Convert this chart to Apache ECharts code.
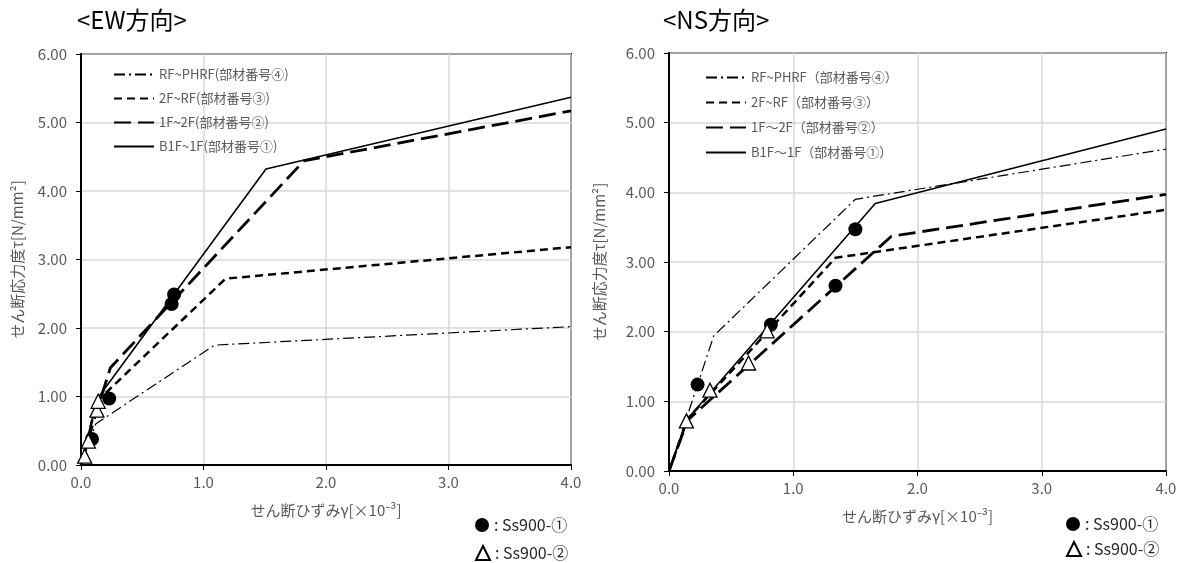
<!DOCTYPE html>
<html>
<head>
<meta charset="utf-8">
<script src="https://cdn.jsdelivr.net/npm/echarts@6/dist/echarts.min.js"></script>
<style>
  html, body { margin: 0; padding: 0; background: #fff; }
  #main { width: 1183px; height: 563px; }
</style>
</head>
<body>
<div id="main"></div>
<script>
// EW方向 skeleton curves (γ [×10^-3], τ [N/mm2])
var ewRfX = [0, 0.12, 1.09, 4.0];
var ewRfY = [0, 0.60, 1.75, 2.02];
var ew2fX = [0, 0.13, 1.18, 4.0];
var ew2fY = [0, 0.93, 2.72, 3.18];
var ew1fX = [0, 0.10, 0.24, 1.82, 4.0];
var ew1fY = [0, 0.62, 1.42, 4.44, 5.17];
var ewB1X = [0, 0.13, 1.51, 4.0];
var ewB1Y = [0, 0.96, 4.32, 5.37];
var ewSs1X = [0.09, 0.23, 0.74, 0.76];
var ewSs1Y = [0.38, 0.97, 2.35, 2.49];
var ewSs2X = [0.03, 0.06, 0.13, 0.14];
var ewSs2Y = [0.13, 0.35, 0.80, 0.93];

// NS方向
var nsRfX = [0, 0.36, 1.50, 4.0];
var nsRfY = [0, 1.94, 3.90, 4.62];
var ns2fX = [0, 0.15, 1.34, 4.0];
var ns2fY = [0, 0.75, 3.06, 3.75];
var ns1fX = [0, 0.15, 1.79, 4.0];
var ns1fY = [0, 0.73, 3.37, 3.97];
var nsB1X = [0, 0.15, 1.66, 4.0];
var nsB1Y = [0, 0.75, 3.84, 4.91];
var nsSs1X = [0.23, 0.82, 1.34, 1.50];
var nsSs1Y = [1.24, 2.10, 2.66, 3.47];
var nsSs2X = [0.14, 0.33, 0.64, 0.79];
var nsSs2Y = [0.72, 1.16, 1.55, 2.01];

var ewNames = ['RF~PHRF(部材番号④)', '2F~RF(部材番号③)', '1F~2F(部材番号②)', 'B1F~1F(部材番号①)'];
var nsNames = ['RF~PHRF（部材番号④）', '2F~RF（部材番号③）', '1F～2F（部材番号②）', 'B1F～1F（部材番号①）'];
var ssNames = [': Ss900-①', ': Ss900-②'];

var FONT = '"Noto Sans CJK JP", "Noto Sans", sans-serif';
var GREY = '#595959';

function pairs(xs, ys) {
  return xs.map(function (x, i) { return [x, ys[i]]; });
}

function xAxisOf(gi) {
  return {
    gridIndex: gi, type: 'value', min: 0, max: 4, interval: 1,
    name: 'せん断ひずみγ[×10⁻³]', nameLocation: 'middle', nameGap: 38,
    nameTextStyle: { color: GREY, fontSize: 15, fontFamily: FONT },
    axisLine: { lineStyle: { color: '#000', width: 2 } },
    axisTick: { show: true, length: 5, lineStyle: { color: '#000' } },
    axisLabel: { color: GREY, fontSize: 15, fontFamily: FONT, margin: 10,
      formatter: function (v) { return v.toFixed(1); } },
    splitLine: { lineStyle: { color: '#d9d9d9', width: 1.5 } }
  };
}

function yAxisOf(gi, gap) {
  return {
    gridIndex: gi, type: 'value', min: 0, max: 6, interval: 1,
    name: 'せん断応力度τ[N/mm²]', nameLocation: 'middle', nameGap: gap,
    nameTextStyle: { color: GREY, fontSize: 15, fontFamily: FONT },
    axisLine: { show: true, lineStyle: { color: '#000', width: 2 } },
    axisTick: { show: true, length: 5, lineStyle: { color: '#000' } },
    axisLabel: { color: GREY, fontSize: 15, fontFamily: FONT, margin: 14,
      formatter: function (v) { return v.toFixed(2); } },
    splitLine: { lineStyle: { color: '#d9d9d9', width: 1.5 } }
  };
}

// 4 line styles: dash-dot, short dash, long dash, solid
var styles = [
  { width: 1.2, type: [11, 4, 2, 4] },
  { width: 2.5, type: [8, 5] },
  { width: 2.8, type: [17, 7] },
  { width: 1.6, type: 'solid' }
];

function lineSeries(name, gi, xs, ys, st) {
  return {
    name: name, type: 'line', xAxisIndex: gi, yAxisIndex: gi,
    data: pairs(xs, ys), symbol: 'none', silent: true, z: 2,
    itemStyle: { color: '#000' },
    lineStyle: { color: '#000', width: st.width, type: st.type }
  };
}

function dotSeries(gi, xs, ys) {
  return {
    name: ssNames[0], type: 'scatter', xAxisIndex: gi, yAxisIndex: gi,
    data: pairs(xs, ys), symbol: 'circle', symbolSize: 14, z: 5,
    itemStyle: { color: '#000', opacity: 1 }
  };
}

function triSeries(gi, xs, ys) {
  return {
    name: ssNames[1], type: 'scatter', xAxisIndex: gi, yAxisIndex: gi,
    data: pairs(xs, ys), symbol: 'triangle', symbolSize: 14, z: 6,
    itemStyle: { color: '#fff', borderColor: '#000', borderWidth: 1.3, opacity: 1 }
  };
}

function lineLegend(names, left, top, gap) {
  return {
    data: names, orient: 'vertical', left: left, top: top,
    itemWidth: 40, itemHeight: 10, itemGap: gap, selectedMode: false,
    itemStyle: { opacity: 0 },
    textStyle: { color: GREY, fontSize: 13, fontFamily: FONT }
  };
}

function markLegend(name, left, top) {
  return {
    data: [name], orient: 'horizontal', left: left, top: top,
    itemWidth: 14, itemHeight: 14, selectedMode: false,
    textStyle: { color: '#262626', fontSize: 16, fontFamily: FONT }
  };
}

var option = {
  animation: false,
  backgroundColor: '#fff',
  title: [
    { text: '<EW方向>', left: 72, top: 3, textStyle: { fontSize: 24, fontWeight: 'normal', color: '#000', fontFamily: FONT } },
    { text: '<NS方向>', left: 658, top: 3, textStyle: { fontSize: 24, fontWeight: 'normal', color: '#000', fontFamily: FONT } }
  ],
  grid: [
    { left: 81, top: 54, width: 490, height: 411, show: true, borderColor: '#000', borderWidth: 2 },
    { left: 669, top: 53, width: 497, height: 418, show: true, borderColor: '#000', borderWidth: 2 }
  ],
  xAxis: [xAxisOf(0), xAxisOf(1)],
  yAxis: [yAxisOf(0, 56), yAxisOf(1, 62)],
  legend: [
    lineLegend(ewNames, 108, 63, 11),
    lineLegend(nsNames, 700, 66, 12),
    markLegend(ssNames[0], 470, 512),
    markLegend(ssNames[1], 470, 540),
    markLegend(ssNames[0], 1061, 511),
    markLegend(ssNames[1], 1061, 536)
  ],
  series: [
    lineSeries(ewNames[0], 0, ewRfX, ewRfY, styles[0]),
    lineSeries(ewNames[1], 0, ew2fX, ew2fY, styles[1]),
    lineSeries(ewNames[2], 0, ew1fX, ew1fY, styles[2]),
    lineSeries(ewNames[3], 0, ewB1X, ewB1Y, styles[3]),
    dotSeries(0, ewSs1X, ewSs1Y),
    triSeries(0, ewSs2X, ewSs2Y),
    lineSeries(nsNames[0], 1, nsRfX, nsRfY, styles[0]),
    lineSeries(nsNames[1], 1, ns2fX, ns2fY, styles[1]),
    lineSeries(nsNames[2], 1, ns1fX, ns1fY, styles[2]),
    lineSeries(nsNames[3], 1, nsB1X, nsB1Y, styles[3]),
    dotSeries(1, nsSs1X, nsSs1Y),
    triSeries(1, nsSs2X, nsSs2Y)
  ]
};

var myChart = echarts.init(document.getElementById('main'));
myChart.setOption(option);
</script>
</body>
</html>
